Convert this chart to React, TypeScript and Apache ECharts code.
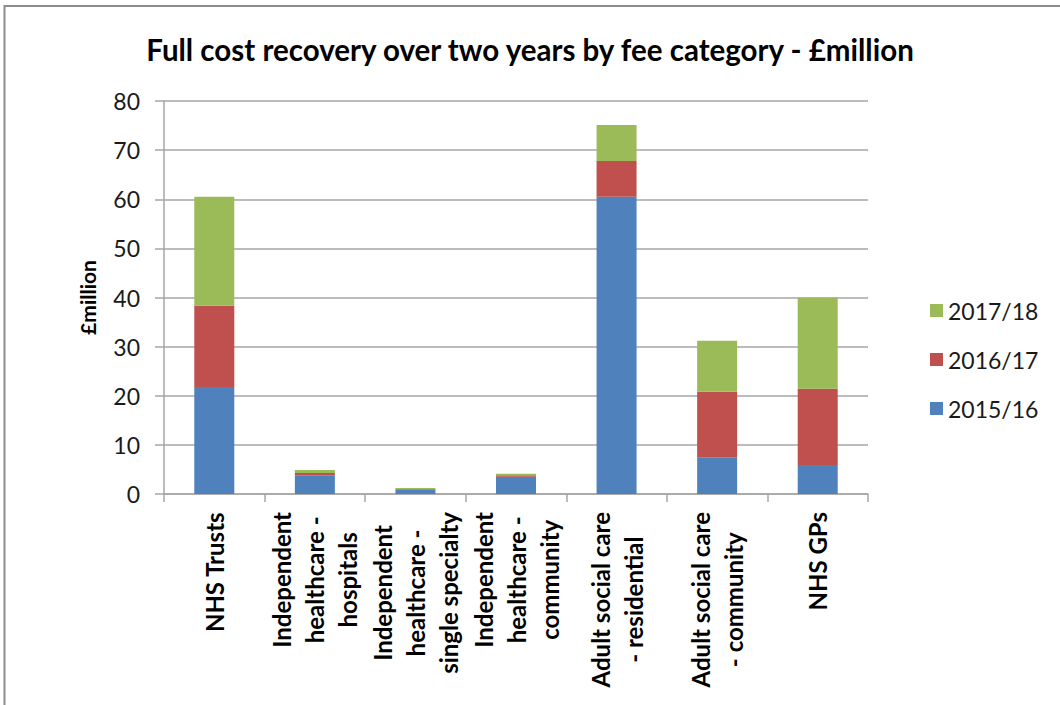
import React, { useEffect, useRef } from "react";
import * as echarts from "echarts";

const categories = [
  "NHS Trusts",
  "Independent\nhealthcare -\nhospitals",
  "Independent\nhealthcare -\nsingle specialty",
  "Independent\nhealthcare -\ncommunity",
  "Adult social care\n- residential",
  "Adult social care\n- community",
  "NHS GPs",
];
const s2015 = [21.8, 3.8, 0.9, 3.5, 60.5, 7.5, 5.9];
const s2016 = [16.5, 0.5, 0.1, 0.3, 7.3, 13.3, 15.5];
const s2017 = [22.2, 0.6, 0.2, 0.3, 7.3, 10.4, 18.6];
const seriesNames = ["2015/16", "2016/17", "2017/18"];
const yTicks = { min: 0, max: 80, interval: 10 };

const FONT = "Lato";

export default function App() {
  const ref = useRef<HTMLDivElement>(null);
  useEffect(() => {
    if (!ref.current) return;
    const chart = echarts.init(ref.current, null, { renderer: "svg" });
    const gray = "#a6a6a6";
    chart.setOption({
      animation: false,
      backgroundColor: "#ffffff",
      title: {
        text: "Full cost recovery over two years by fee category - £million",
        left: "center",
        top: 29,
        textStyle: { fontFamily: FONT, fontSize: 29.5, fontWeight: "bold", color: "#000" },
      },
      graphic: [
        {
          type: "rect",
          shape: { x: 4.5, y: 6, width: 1200, height: 900 },
          style: { fill: "none", stroke: "#8c8c8c", lineWidth: 2 },
          silent: true,
        },
      ],
      legend: {
        orient: "vertical",
        left: 925,
        top: 294,
        data: [seriesNames[2], seriesNames[1], seriesNames[0]],
        icon: "rect",
        itemWidth: 13,
        itemHeight: 13,
        itemGap: 26,
        textStyle: { fontFamily: FONT, fontSize: 23, color: "#1a1a1a", lineHeight: 23 },
      },
      grid: { left: 164, right: 192, top: 101, bottom: 211, containLabel: false },
      xAxis: {
        type: "category",
        data: categories,
        axisLine: { lineStyle: { color: gray, width: 1.5 } },
        axisTick: { show: true, length: 8, lineStyle: { color: gray, width: 1.5 } },
        axisLabel: {
          interval: 0,
          rotate: 90,
          margin: 18,
          formatter: (v: string) => v.split("\n").map((l) => `{c|${l}}`).join("\n"),
          rich: {
            c: {
              align: "center",
              fontFamily: FONT,
              fontSize: 24,
              fontWeight: "bold",
              lineHeight: 33,
              color: "#000",
            },
          },
        },
      },
      yAxis: {
        type: "value",
        min: yTicks.min,
        max: yTicks.max,
        interval: yTicks.interval,
        name: "£million",
        nameLocation: "middle",
        nameRotate: 90,
        nameGap: 66,
        nameTextStyle: { fontFamily: FONT, fontSize: 21, fontWeight: "bold", color: "#000" },
        axisLine: { show: true, lineStyle: { color: gray, width: 1.5 } },
        axisTick: { show: true, length: 9, lineStyle: { color: gray, width: 1.5 } },
        axisLabel: { margin: 24, fontFamily: FONT, fontSize: 23, color: "#1a1a1a" },
        splitLine: { show: true, lineStyle: { color: gray, width: 1.5 } },
      },
      series: [
        { name: seriesNames[0], type: "bar", stack: "a", data: s2015, barWidth: 40, itemStyle: { color: "#4F81BD" } },
        { name: seriesNames[1], type: "bar", stack: "a", data: s2016, barWidth: 40, itemStyle: { color: "#C0504D" } },
        { name: seriesNames[2], type: "bar", stack: "a", data: s2017, barWidth: 40, itemStyle: { color: "#9BBB59" } },
      ],
    });
    return () => chart.dispose();
  }, []);
  return (
    <div
      ref={ref}
      style={{ position: "fixed", left: 0, top: 0, width: 1060, height: 705, background: "#fff" }}
    />
  );
}
